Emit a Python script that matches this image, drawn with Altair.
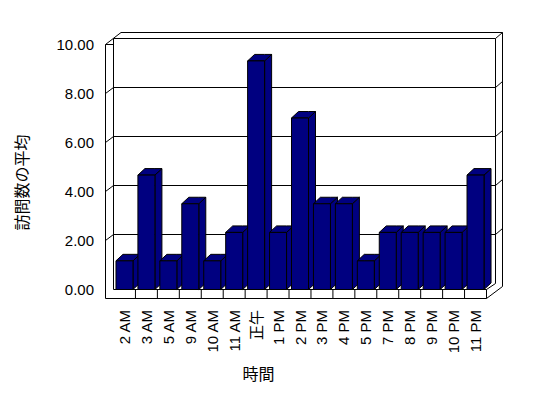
import altair as alt
import pandas as pd

# ---- data ----
categories = ["2 AM", "3 AM", "5 AM", "9 AM", "10 AM", "11 AM", "正午", "1 PM", "2 PM",
              "3 PM", "4 PM", "5 PM", "7 PM", "8 PM", "9 PM", "10 PM", "11 PM"]
values = [1.17, 4.67, 1.17, 3.5, 1.17, 2.33, 9.33, 2.33, 7.0,
          3.5, 3.5, 1.17, 2.33, 2.33, 2.33, 2.33, 4.67]
y_ticks = [0, 2, 4, 6, 8, 10]
x_title = "時間"
y_title = "訪問数の平均"

# ---- geometry helpers (page pixels -> scale units) ----
N = len(categories)
W, H = 373, 245
PAD_L, PAD_T = 105.5, 36.5
X0 = 8 + PAD_L          # page x of x=0
Y0 = 8 + PAD_T + H      # page y of y=0
UX = W / N
UY = H / 10.0

def dxu(px): return px / UX
def dyu(px): return px / UY
def xu(px): return (px - X0) / UX
def yu(py): return (Y0 - py) / UY

NAVY = "#000080"
LATIN = "Liberation Sans, Noto Sans CJK JP"
CJK = "Noto Sans CJK JP"

bw = dxu(17)
bdx, bdy = dxu(7), dyu(6.5)

front_rows, side_rows, top_rows = [], [], []
for i, v in enumerate(values):
    c = i + 0.5
    x0, x1 = c - bw / 2, c + bw / 2
    front_rows.append({"b": i, "x": x0, "x2": x1, "y": v, "y2": 0.0})
    side_rows += [{"b": i, "x": x1, "y": v, "y2": 0.0},
                  {"b": i, "x": x1 + bdx, "y": v + bdy, "y2": bdy}]
    top_rows += [{"b": i, "x": x0, "y": v, "y2": v},
                 {"b": i, "x": x0 + bdx, "y": v + bdy, "y2": v},
                 {"b": i, "x": x1, "y": v + bdy, "y2": v},
                 {"b": i, "x": x1 + bdx, "y": v + bdy, "y2": v + bdy}]
front_df = pd.DataFrame(front_rows)
side_df = pd.DataFrame(side_rows)
top_df = pd.DataFrame(top_rows)

# walls / floor outline segments (page px)
XL_OUT, XL_IN = 105.5, 113.5
XR_FRONT = X0 + W
XR_IN, XR_OUT = XR_FRONT + 9, XR_FRONT + 16
Y_TOP_F = Y0 - H
Y_TOP_IN, Y_TOP_OUT = Y_TOP_F - 6, Y_TOP_F - 12
Y_FLOOR_B = Y0 + 9
segs = [
    (XL_OUT, Y_TOP_F, XL_OUT, Y_FLOOR_B),
    (XL_IN, Y_TOP_IN, XL_IN, Y0),
    (XL_OUT, Y_TOP_F, XL_IN, Y_TOP_F),
    (XL_OUT, Y_TOP_F, XL_OUT + 15.5, Y_TOP_OUT),
    (XL_IN, Y_TOP_IN, XR_IN, Y_TOP_IN),
    (XL_OUT + 15.5, Y_TOP_OUT, XR_OUT, Y_TOP_OUT),
    (XR_IN, Y_TOP_IN, XR_OUT, Y_TOP_OUT),
    (XR_IN, Y_TOP_IN, XR_IN, Y0 - 6),
    (XR_OUT, Y_TOP_OUT, XR_OUT, Y_FLOOR_B - 12),
    (XR_FRONT, Y_FLOOR_B, XR_OUT, Y_FLOOR_B - 12),
    (XR_FRONT, Y0, XR_IN, Y0 - 6),
    (XL_OUT, Y_FLOOR_B, XR_FRONT, Y_FLOOR_B),
    (XL_IN, Y0, XR_FRONT, Y0),
]
for k in range(1, N + 1):
    xp = X0 + UX * k
    segs.append((xp, Y0, xp, Y_FLOOR_B))
for t in y_ticks[1:-1]:
    yp = Y0 - UY * t
    segs.append((XL_OUT, yp, XL_IN, yp - 6))
    segs.append((XL_IN, yp - 6, XR_IN, yp - 6))
    segs.append((XR_IN, yp - 6, XR_OUT, yp - 12))
seg_df = pd.DataFrame([{"x": xu(a), "y": yu(b), "x2": xu(c), "y2": yu(d)} for a, b, c, d in segs])

xs = alt.Scale(domain=[0, N], nice=False, zero=False)
ys = alt.Scale(domain=[0, 10], nice=False, zero=False)

label_expr = "[" + ",".join("'" + c + "'" for c in categories) + "][floor(datum.value)]"

x_axis = alt.Axis(
    values=[i + 0.5 for i in range(N)], labelExpr=label_expr,
    labelAngle=270, labelAlign="right", labelBaseline="middle",
    labelPadding=11, ticks=False, tickSize=0, domain=False, grid=False, offset=9,
    labelFont=LATIN, labelFontSize=15, labelColor="black",
    labelOverlap=False, labelFlush=False, labelBound=False,
    title=x_title, titleFont=CJK, titleFontSize=16, titleFontWeight="normal",
    titleColor="black", titleAngle=0, titleX=258 - X0, titleY=374 - Y_FLOOR_B,
    titleBaseline="middle", titleAlign="center")
y_axis = alt.Axis(
    values=y_ticks, format=".2f", labelPadding=12, ticks=False, tickSize=0,
    domain=False, grid=False, offset=8,
    labelFont=LATIN, labelFontSize=15, labelColor="black",
    labelOverlap=False, labelFlush=False,
    title=y_title, titleFont=CJK, titleFontSize=16, titleFontWeight="normal",
    titleColor="black", titleAngle=270, titleX=22 - XL_OUT, titleY=182 - Y_TOP_F,
    titleBaseline="middle", titleAlign="center")

X = alt.X("x:Q", scale=xs, axis=x_axis)
Y = alt.Y("y:Q", scale=ys, axis=y_axis)

structure = alt.Chart(seg_df).mark_rule(color="black", strokeWidth=1).encode(
    x=X, x2="x2:Q", y=Y, y2="y2:Q")

sides = alt.Chart(side_df).mark_area(
    fill=NAVY, stroke="black", strokeWidth=1, orient="vertical", interpolate="linear"
).encode(x=X, y=Y, y2="y2:Q", detail="b:N")

tops = alt.Chart(top_df).mark_area(
    fill=NAVY, stroke="black", strokeWidth=1, orient="vertical", interpolate="linear"
).encode(x=X, y=Y, y2="y2:Q", detail="b:N")

fronts = alt.Chart(front_df).mark_rect(fill=NAVY, stroke="black", strokeWidth=1).encode(
    x=X, x2="x2:Q", y=Y, y2="y2:Q")

chart = alt.layer(structure, sides, tops, fronts).properties(
    width=W, height=H,
    autosize=alt.AutoSizeParams(type="none"),
    padding={"left": PAD_L, "top": PAD_T, "right": 50, "bottom": 96},
    background="white",
).configure_view(stroke=None)

chart.save("out.html", embed_options={"renderer": "svg", "actions": False})
